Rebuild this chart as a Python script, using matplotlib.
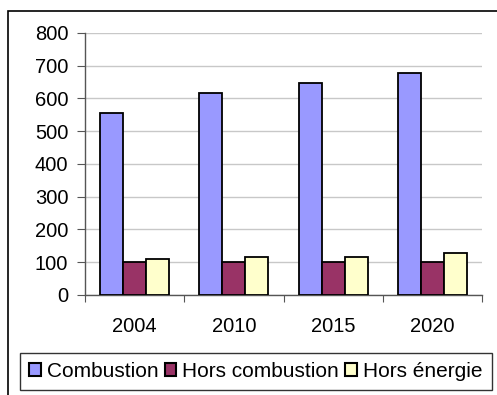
import matplotlib.pyplot as plt
import numpy as np
from matplotlib.patches import Rectangle

plt.rcParams['font.family'] = ['Liberation Sans', 'DejaVu Sans']

years = ['2004', '2010', '2015', '2020']
combustion = [556, 616, 648, 679]
hors_combustion = [100, 100, 100, 100]
hors_energie = [110, 116, 116, 129]

series = [
    ('Combustion', combustion, '#9999FF'),
    ('Hors combustion', hors_combustion, '#993366'),
    ('Hors énergie', hors_energie, '#FFFFCC'),
]

fs = 14.5

fig = plt.figure(figsize=(4.97, 3.95), dpi=100)
ax = fig.add_axes([0.171, 0.2532, 0.799, 0.6633])

# outer chart frame, runs off the right and bottom edges
fig.patches.append(Rectangle((8 / 497, -0.1), 1.2, 1 - 11 / 395 + 0.1,
                             transform=fig.transFigure, fill=False,
                             edgecolor='black', linewidth=1.2, clip_on=False))

x = np.arange(len(years))
w = 0.232
for i, (name, vals, col) in enumerate(series):
    ax.bar(x + (i - 1) * w, vals, w, color=col, edgecolor='black',
           linewidth=1.3, label=name, zorder=3)

ax.set_xlim(-0.5, len(years) - 0.5)
ax.set_ylim(0, 800)
ax.set_yticks(range(0, 801, 100))
ax.yaxis.grid(True, color='#c8c8c8', linewidth=1, zorder=0)
ax.set_axisbelow(True)

ax.set_xticks(np.arange(len(years) + 1) - 0.5)
ax.set_xticklabels([])
ax.set_xticks(x, minor=True)
ax.set_xticklabels(years, minor=True, fontsize=fs)
ax.tick_params(axis='x', which='minor', length=0, pad=16)
ax.tick_params(axis='x', which='major', length=5, color='#555555', direction='out')
ax.tick_params(axis='y', length=6, color='#555555', labelsize=fs, pad=6)

for s in ['top', 'right']:
    ax.spines[s].set_visible(False)
for s in ['left', 'bottom']:
    ax.spines[s].set_color('#555555')
    ax.spines[s].set_linewidth(1)

leg = fig.legend(loc='center', bbox_to_anchor=(0.515, 0.0595), ncol=3,
                 fontsize=15, frameon=True, fancybox=False,
                 handlelength=0.55, handleheight=0.55, handletextpad=0.3,
                 columnspacing=0.3, borderpad=0.45, borderaxespad=0)
leg.get_frame().set_edgecolor('black')
leg.get_frame().set_linewidth(1)
for h in leg.legend_handles:
    h.set_linewidth(1.5)

fig.savefig('out.png', dpi=100)
